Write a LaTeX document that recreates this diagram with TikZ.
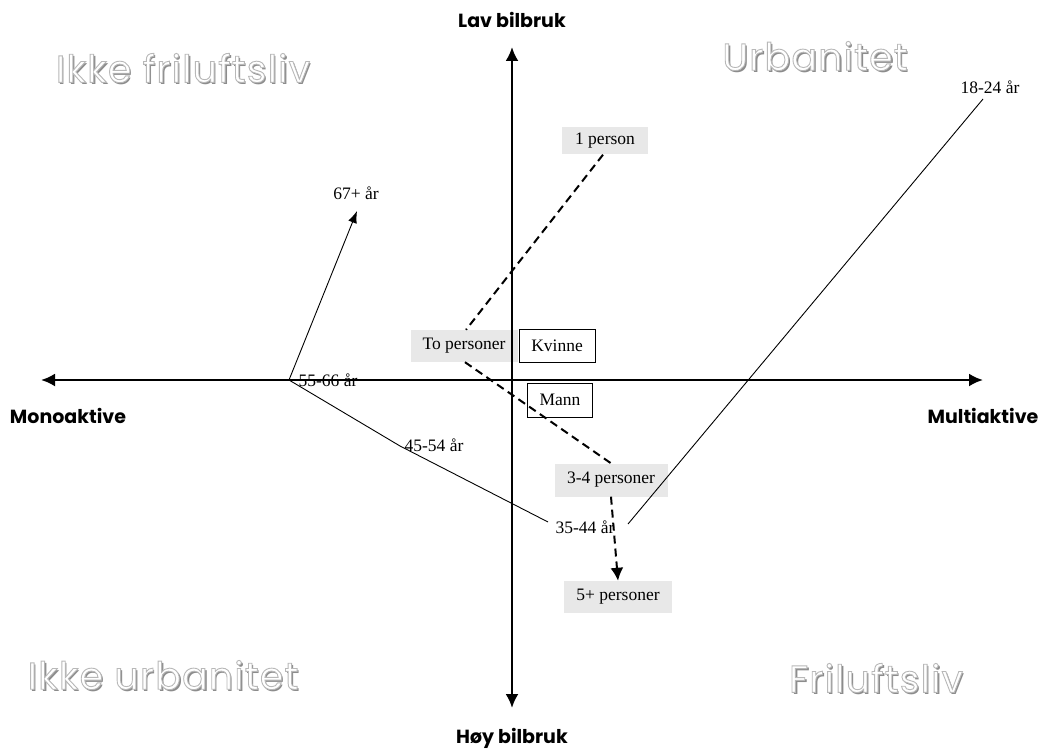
\documentclass[tikz,border=0pt]{standalone}
\usepackage{fontspec}
\setmainfont{Liberation Serif}
\newfontfamily\headfont{Poppins}
\newfontfamily\titlefont[LetterSpace=3]{Poppins}
\usetikzlibrary{arrows.meta}
\definecolor{boxgray}{RGB}{232,232,232}

% hollow (stroked, white-filled) text
\newcommand\hollow[1]{%
  \special{pdf:literal direct 2 Tr 0.9 w 0.72 G 1 g}#1\special{pdf:literal direct 0 Tr}}

% outlined, shadowed corner title: name, position, text
\newcommand\embossed[3]{%
  \node[corner, text=black!45] (#1-shadow) at ([shift={(2,2)}]#2) {#3};
  \node[corner] (#1) at (#2) {\hollow{#3}};
}

\begin{document}
\begin{tikzpicture}[x=1pt, y=-1pt,
  axis/.style={line width=2.4pt, {Latex[length=14pt,width=13pt]}-{Latex[length=14pt,width=13pt]}},
  axislabel/.style={font=\headfont\bfseries\fontsize{19}{22}\selectfont, inner sep=0pt},
  corner/.style={font=\titlefont\fontsize{38}{42}\selectfont, inner sep=0pt},
  lbl/.style={font=\fontsize{17.5}{20}\selectfont, inner sep=0pt},
  graybox/.style={lbl, fill=boxgray, inner sep=0pt, minimum height=32pt},
  whitebox/.style={lbl, draw, line width=0.9pt, fill=white, inner sep=0pt, minimum height=33pt},
  flow/.style={line width=2pt, dash pattern=on 8pt off 5pt},
  thin/.style={line width=0.9pt}]
\useasboundingbox (0,0) rectangle (1040,751);

% household-size boxes (under the axes)
\node[graybox, minimum width=86pt, minimum height=27pt] (p1) at (605,141) {1 person};
\node[graybox, minimum width=107pt] (p2) at (464,346) {To personer};
\node[graybox, minimum width=113pt, minimum height=33pt] (p34) at (611,480) {3-4 personer};
\node[graybox, minimum width=108pt] (p5) at (618,597) {5+ personer};

% axes
\coordinate (xl) at (41,380);
\coordinate (xr) at (983,380);
\coordinate (yt) at (512,47);
\coordinate (yb) at (512,708);
\draw[axis] (xl) -- (xr);
\draw[axis] (yt) -- (yb);

\node[axislabel] (lav) at (512,20) {Lav bilbruk};
\node[axislabel] (hoy) at (512,738) {Høy bilbruk};
\node[axislabel] (mono) at (68,416) {Monoaktive};
\node[axislabel] (multi) at (983,416) {Multiaktive};

% quadrant titles
\embossed{q1}{183,68}{Ikke friluftsliv}
\embossed{q2}{815,56}{Urbanitet}
\embossed{q3}{163,675}{Ikke urbanitet}
\embossed{q4}{876,678}{Friluftsliv}

% gender boxes
\node[whitebox, minimum width=76pt] (kv) at (557,346) {Kvinne};
\node[whitebox, minimum width=65pt, minimum height=34pt] (ma) at (560,400) {Mann};

% household-size path
\draw[flow] ([xshift=-2pt]p1.south) -- ([xshift=2pt]p2.north);
\draw[flow] ([xshift=1pt]p2.south) -- (p34.north);
\draw[flow, -{Latex[length=13pt,width=13pt]}] (p34.south) -- (p5.north);

% age path
\node[lbl] (a1824) at (990,87) {18-24 år};
\node[lbl] (a3544) at (585,527) {35-44 år};
\node[lbl] (a4554) at (434,445) {45-54 år};
\node[lbl] (a5566) at (328,380) {55-66 år};
\node[lbl] (a67) at (356,193) {67+ år};
\coordinate (s1824) at (983,99);
\coordinate (r3544) at (628,524);
\coordinate (l3544) at (548,522);
\coordinate (k4554) at (400,446);
\coordinate (k5566) at (289,380);
\coordinate (t67) at (357,211);
\draw[thin] (s1824) -- (r3544);
\draw[thin] (l3544) -- (k4554) -- (k5566);
\draw[thin, -{Latex[length=12pt,width=9pt]}] (k5566) -- (t67);
\end{tikzpicture}
\end{document}
